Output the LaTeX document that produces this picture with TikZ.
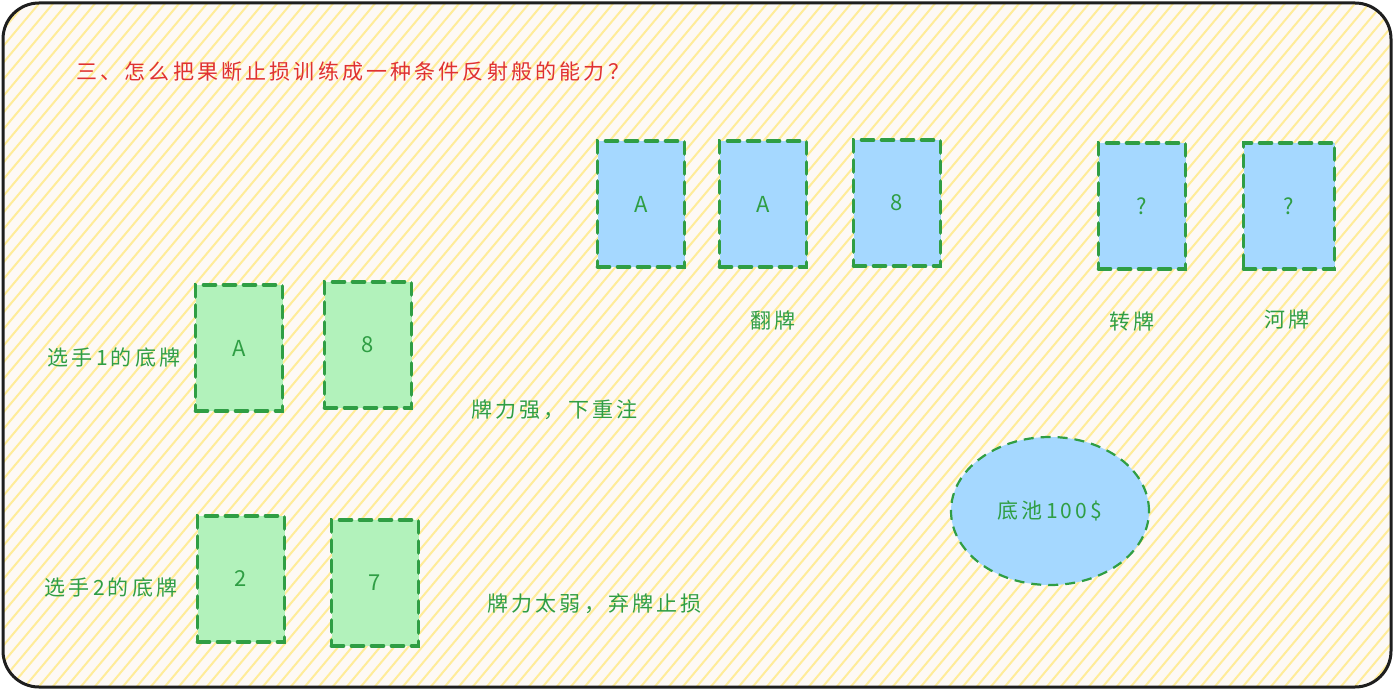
\documentclass[tikz,border=0pt]{standalone}
\usepackage{fontspec}
\setmainfont{Noto Sans CJK SC}
\newfontfamily\handcjk[LetterSpace=15]{Noto Sans CJK SC}
\usetikzlibrary{shapes.geometric}
\definecolor{hatchy}{HTML}{FFEC99}
\definecolor{paper}{HTML}{FDF9F5}
\definecolor{cardg}{HTML}{B2F2BB}
\definecolor{cardb}{HTML}{A5D8FF}
\definecolor{edgeg}{HTML}{2F9E44}
\definecolor{titler}{HTML}{E03131}
\definecolor{frame}{HTML}{1E1E1E}

\begin{document}
\begin{tikzpicture}[x=1pt, y=-1pt,
  card/.style={minimum width=87pt, minimum height=126pt, inner sep=0pt, draw=edgeg,
    line width=3.6pt, dash pattern=on 12pt off 8pt, line cap=round, text=edgeg,
    font=\fontsize{22}{24}\selectfont},
  green card/.style={card, fill=cardg},
  blue card/.style={card, fill=cardb},
  lbl/.style={text=edgeg, font=\fontsize{21}{24}\selectfont\handcjk}]
\useasboundingbox (0,0) rectangle (1394,690);
\fill[white] (0,0) rectangle (1394,690);
\begin{scope}
\clip[rounded corners=36pt] (3,3) rectangle (1391,687);
\fill[paper] (0,0) rectangle (1394,690);
\foreach \i in {-580,-566,...,1394} \draw[hatchy, line width=2pt] (\i,690)--(\i+580,0);
\end{scope}
\draw[frame, line width=3pt, rounded corners=36pt] (3,3) rectangle (1391,687);

\node[anchor=west, text=titler, font=\fontsize{21}{24}\selectfont\handcjk] (title) at (73,72)
  {三、怎么把果断止损训练成一种条件反射般的能力\,？};

% hole cards
\node[green card] (p1a) at (239,348) {A};
\node[green card] (p1b) at (368,345) {8};
\node[green card] (p2a) at (241,579) {2};
\node[green card] (p2b) at (375,583) {7};
\node[lbl] (p1) at (114,358) {选手1的底牌};
\node[lbl] (p2) at (111,588) {选手2的底牌};
\node[lbl, anchor=west] (strong) at (468,410) {牌力强，下重注};
\node[lbl, anchor=west] (weak) at (484,604) {牌力太弱，弃牌止损};

% board
\node[blue card] (f1) at (641,204) {A};
\node[blue card] (f2) at (763,204) {A};
\node[blue card] (f3) at (897,203) {8};
\node[blue card] (turn) at (1142,206) {?};
\node[blue card, minimum width=91pt] (river) at (1289,206) {?};
\node[lbl] (flop) at (773,321) {翻牌};
\node[lbl] (turnl) at (1132,322) {转牌};
\node[lbl] (riverl) at (1287,320) {河牌};

% pot
\node[ellipse, fill=cardb, draw=edgeg, line width=2.2pt, dash pattern=on 10pt off 7pt,
  minimum width=198pt, minimum height=148pt, inner sep=0pt] (pot) at (1050,511) {};
\node[lbl] at (pot) {底池100\$};

\end{tikzpicture}
\end{document}
